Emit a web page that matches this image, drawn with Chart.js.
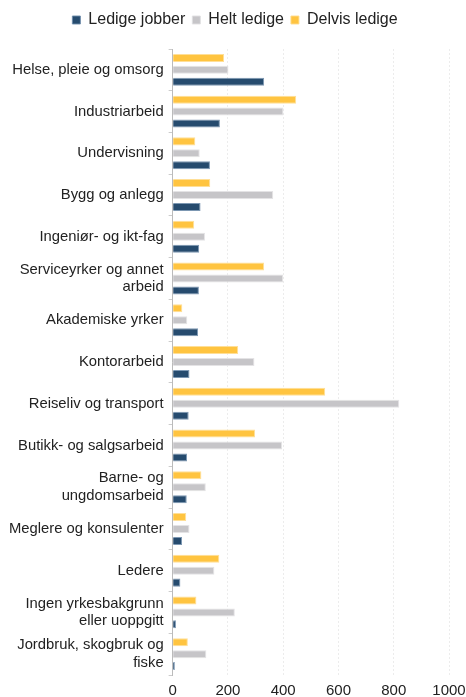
<!DOCTYPE html>
<html>
<head>
<meta charset="utf-8">
<script src="https://cdn.jsdelivr.net/npm/chart.js@4"></script>
<style>
  html, body { margin: 0; padding: 0; background: #fff; }
  #wrap { width: 466px; height: 697px; }
</style>
</head>
<body>
<div id="wrap"><canvas id="yrkeCanvas"></canvas></div>
<script>
// Yrkesgrupper
const kategorier = [
    "Helse, pleie og omsorg",
    "Industriarbeid",
    "Undervisning",
    "Bygg og anlegg",
    "Ingeniør- og ikt-fag",
    ["Serviceyrker og annet", "arbeid"],
    "Akademiske yrker",
    "Kontorarbeid",
    "Reiseliv og transport",
    "Butikk- og salgsarbeid",
    ["Barne- og", "ungdomsarbeid"],
    "Meglere og konsulenter",
    "Ledere",
    ["Ingen yrkesbakgrunn", "eller uoppgitt"],
    ["Jordbruk, skogbruk og", "fiske"],
];

const ledigeJobber = [331, 171, 135, 101, 96, 95, 92, 61, 58, 52, 51, 34, 28, 12, 8];
const heltLedige = [202, 401, 98, 364, 117, 400, 53, 296, 820, 396, 120, 61, 151, 225, 122];
const delvisLedige = [186, 447, 82, 136, 78, 331, 35, 237, 552, 298, 104, 49, 169, 86, 55];

const xTicks = [0, 200, 400, 600, 800, 1000];

Chart.defaults.font.family = "'Liberation Sans', Arial, sans-serif";
Chart.defaults.color = "#222";

// litt ekstra luft under legenden
const legendeLuft = {
    id: "legendeLuft",
    beforeInit(chart) {
        const fit = chart.legend.fit;
        chart.legend.fit = function () {
            fit.bind(chart.legend)();
            this.height += 11;
        };
    },
};

const yrkeCanvas = document.getElementById("yrkeCanvas");

const yrkeChart = new Chart(yrkeCanvas, {
    type: "bar",
    data: {
        labels: kategorier,
        datasets: [
            {
                label: "Delvis ledige",
                data: delvisLedige,
                backgroundColor: "rgb(255, 196, 64)",
                borderColor: "rgba(255, 220, 140, 0.9)",
                borderWidth: 1,
            },
            {
                label: "Helt ledige",
                data: heltLedige,
                backgroundColor: "rgb(198, 197, 200)",
                borderColor: "rgba(225, 224, 226, 0.9)",
                borderWidth: 1,
            },
            {
                label: "Ledige jobber",
                data: ledigeJobber,
                backgroundColor: "rgb(38, 75, 110)",
                borderColor: "rgba(110, 140, 170, 0.9)",
                borderWidth: 1,
            },
        ],
    },
    plugins: [legendeLuft],
    options: {
        indexAxis: "y",
        responsive: true,
        maintainAspectRatio: false,
        animation: false,
        datasets: {
            bar: {
                categoryPercentage: 0.86,
                barPercentage: 0.67,
            },
        },
        layout: {
            padding: { top: 5, right: 0, bottom: -10, left: 4 },
        },
        plugins: {
            legend: {
                position: "top",
                reverse: true,
                labels: {
                    usePointStyle: true,
                    pointStyle: "rect",
                    boxWidth: 8,
                    boxHeight: 8,
                    padding: 7,
                    font: { size: 16 },
                    color: "#222",
                },
            },
            tooltip: { enabled: false },
        },
        scales: {
            x: {
                min: 0,
                max: 1000,
                afterBuildTicks: (axis) => {
                    axis.ticks = xTicks.map((v) => ({ value: v }));
                },
                afterFit: (axis) => {
                    axis.paddingRight = 17;
                },
                grid: {
                    color: "#ececec",
                    tickLength: 0,
                    drawTicks: false,
                },
                border: { display: false, dash: [2, 2] },
                ticks: {
                    font: { size: 15 },
                    color: "#222",
                    padding: 7,
                    callback: (v) => String(v),
                },
            },
            y: {
                grid: {
                    offset: true,
                    drawOnChartArea: false,
                    color: "#cccccc",
                    tickLength: 4,
                },
                border: { display: true, color: "#bbbbbb" },
                ticks: {
                    font: { size: 14.8 },
                    color: "#222",
                    padding: 5,
                },
            },
        },
    },
});
</script>
</body>
</html>
